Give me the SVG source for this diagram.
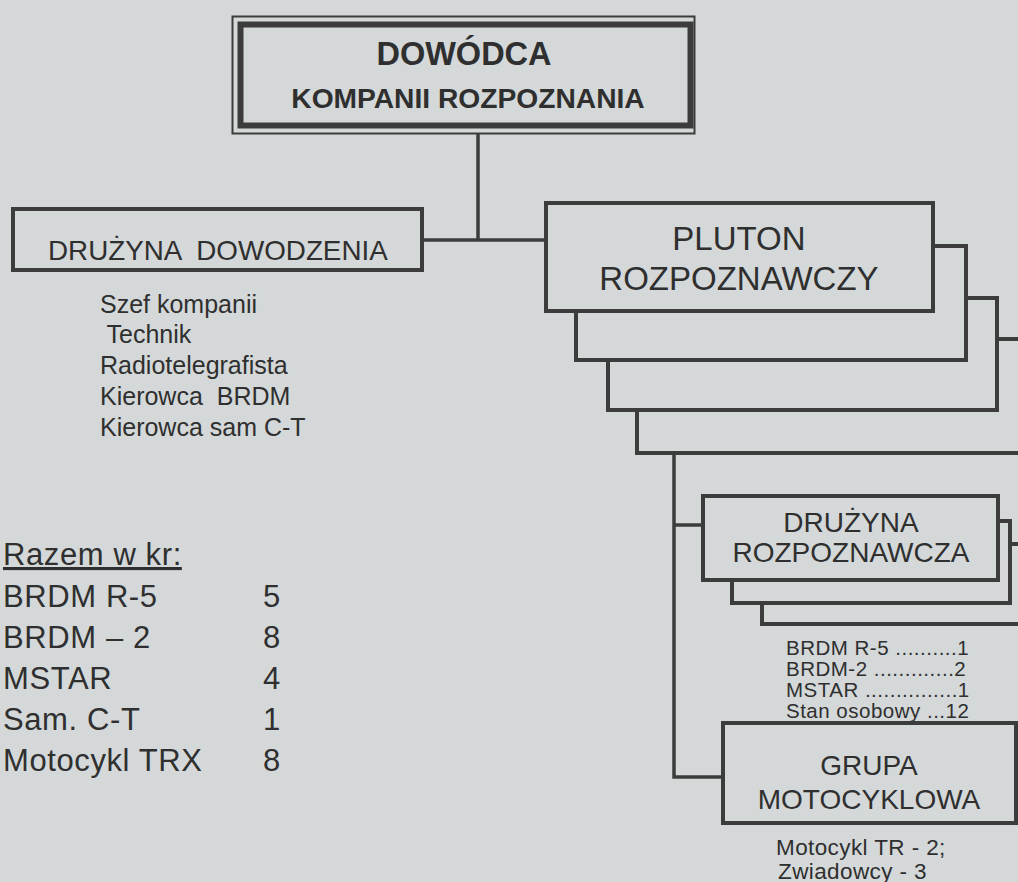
<svg xmlns="http://www.w3.org/2000/svg" width="1018" height="882" viewBox="0 0 1018 882">
<style>
.bg{fill:#d4d8d9}
.box{fill:#d4d8d9;stroke:#3c3c3c;stroke-width:4}
.con{fill:none;stroke:#3c3c3c;stroke-width:3.5}
text{font-family:"Liberation Sans",Arial,sans-serif;fill:#2f2f2f}
.lbl{font-size:28px;text-anchor:middle}
.big{font-size:33px;text-anchor:middle}
.sm{font-size:20.5px;letter-spacing:0.5px}
.mot{font-size:22.5px;letter-spacing:0.4px}
.lst{font-size:25px}
.tot{font-size:31px;letter-spacing:0.6px}
</style>
<rect class="bg" x="0" y="0" width="1018" height="882"/>

<g id="connectors">
  <path class="con" d="M478,134 V240 M422,240 H546"/>
  <path class="con" d="M674,453 V777 H723 M674,525 H703"/>
</g>

<g id="dowodca">
  <rect x="232.5" y="16.5" width="462" height="117" fill="#d4d8d9" stroke="#3c3c3c" stroke-width="2"/>
  <rect x="240.5" y="24.5" width="450" height="101" fill="none" stroke="#3c3c3c" stroke-width="6"/>
  <text x="464" y="65" text-anchor="middle" font-size="32.5" font-weight="bold">DOWÓDCA</text>
  <text x="468" y="108" text-anchor="middle" font-size="28.2" font-weight="bold">KOMPANII ROZPOZNANIA</text>
</g>

<g id="druzyna-dowodzenia">
  <rect class="box" x="13" y="209" width="409" height="61"/>
  <text x="48" y="260" font-size="27.8" xml:space="preserve">DRUŻYNA  DOWODZENIA</text>
  <text class="lst" x="100" y="313">Szef kompanii</text>
  <text class="lst" x="100" y="343" xml:space="preserve"> Technik</text>
  <text class="lst" x="100" y="374">Radiotelegrafista</text>
  <text class="lst" x="100" y="405" xml:space="preserve">Kierowca  BRDM</text>
  <text class="lst" x="100" y="436">Kierowca sam C-T</text>
</g>

<g id="pluton">
  <rect class="box" x="637" y="339" width="400" height="114"/>
  <rect class="box" x="608" y="298" width="389" height="112"/>
  <rect class="box" x="576" y="246" width="390" height="114"/>
  <rect class="box" x="546" y="203" width="387" height="108"/>
  <text class="big" x="739" y="250">PLUTON</text>
  <text class="big" x="739" y="290">ROZPOZNAWCZY</text>
</g>

<g id="druzyna-rozpoznawcza">
  <rect class="box" x="762" y="544" width="280" height="80"/>
  <rect class="box" x="732" y="521" width="278" height="82"/>
  <rect class="box" x="703" y="496" width="295" height="84"/>
  <text class="lbl" x="851" y="532">DRUŻYNA</text>
  <text class="lbl" x="851" y="562">ROZPOZNAWCZA</text>
  <text class="sm" x="786" y="655">BRDM R-5 ..........1</text>
  <text class="sm" x="786" y="676">BRDM-2 .............2</text>
  <text class="sm" x="786" y="697">MSTAR ...............1</text>
  <text class="sm" x="786" y="718">Stan osobowy ...12</text>
</g>

<g id="grupa-motocyklowa">
  <rect class="box" x="723" y="723" width="293" height="100"/>
  <text class="lbl" x="869" y="775">GRUPA</text>
  <text class="lbl" x="869" y="809">MOTOCYKLOWA</text>
  <text class="mot" x="776" y="855">Motocykl TR - 2;</text>
  <text class="mot" x="778" y="879">Zwiadowcy - 3</text>
</g>

<g id="razem">
  <text class="tot" x="3" y="565" text-decoration="underline">Razem w kr:</text>
  <text class="tot" x="3" y="607">BRDM R-5</text>
  <text class="tot" x="263" y="607">5</text>
  <text class="tot" x="3" y="648">BRDM – 2</text>
  <text class="tot" x="263" y="648">8</text>
  <text class="tot" x="3" y="689">MSTAR</text>
  <text class="tot" x="263" y="689">4</text>
  <text class="tot" x="3" y="730">Sam. C-T</text>
  <text class="tot" x="263" y="730">1</text>
  <text class="tot" x="3" y="771">Motocykl TRX</text>
  <text class="tot" x="263" y="771">8</text>
</g>
</svg>
